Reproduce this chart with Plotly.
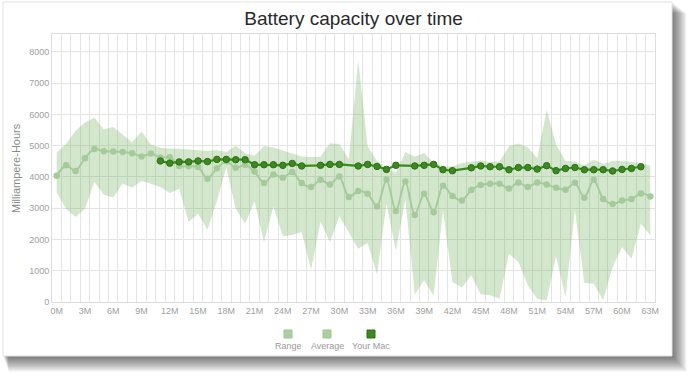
import plotly.graph_objects as go

# ---------------- data ----------------
months = list(range(64))
tick_vals = list(range(0, 64, 3))
tick_text = [f"{m}M" for m in tick_vals]

range_upper = [4770, 5060, 5480, 5740, 5890, 5520, 5600, 5340, 5110, 5450,
               5040, 4930, 4900, 4900, 4870, 4850, 4830, 4860, 4800, 5000,
               4760, 4680, 4990, 4940, 4847, 4756, 4655, 4633, 4644, 5080,
               5050, 4565, 7722, 4980, 4500, 4287, 4127, 4792, 4644, 4766,
               4447, 4340, 4330, 4441, 4473, 4527, 4473, 4495, 4980, 5070,
               4950, 4600, 6147, 5030, 4505, 4495, 4367, 4549, 4420, 4505,
               4505, 4473, 4441, 4367]

range_lower = [3500, 2984, 2716, 2984, 3834, 3430, 3345, 3790, 3660, 3870,
               3783, 3674, 3483, 3623, 2570, 2824, 2313, 3220, 4300, 2980,
               2504, 3220, 1917, 3050, 2100, 2140, 2237, 1035, 2570, 1917,
               2750, 2210, 1706, 1890, 870, 3140, 1650, 3290, 240, 700,
               200, 2920, 640, 460, 853, 246, 214, 107, 1546, 1278,
               534, 107, 54, 1460, 160, 2930, 607, 587, 54, 1118,
               1757, 1387, 2504, 2131]

average = [4040, 4370, 4190, 4600, 4890, 4820, 4815, 4795, 4760, 4650,
           4750, 4620, 4630, 4350, 4340, 4320, 3940, 4280, 4500, 4290,
           4380, 4170, 3803, 4080, 3974, 4154, 3803, 3675, 3910, 3760,
           4016, 3355, 3546, 3463, 3057, 3920, 2907, 3856, 2780, 3463,
           2866, 3718, 3390, 3249, 3579, 3739, 3782, 3782, 3633, 3824,
           3675, 3824, 3760, 3654, 3590, 3814, 3334, 3910, 3291, 3131,
           3249, 3291, 3473, 3377]

your_mac = [None] * 11 + [
    4510, 4440, 4480, 4480, 4510, 4490, 4560, 4560, 4550, 4550,
    4390, 4390, 4390, 4370, 4430, 4350, None, 4370, 4400, 4400,
    None, 4350, 4400, 4335, 4240, 4370, None, 4350, 4370, 4400,
    4230, 4200, None, 4290, 4350, 4325, 4325, 4230, 4300, 4300,
    4250, 4360, 4200, 4270, 4300, 4230, 4230, 4230, 4190, 4240,
    4270, 4325] + [None]

legend_names = ["Range", "Average", "Your Mac"]

# ---------------- styling ----------------
FONT = "Liberation Sans, Arial, Helvetica, sans-serif"
FILL = "rgba(110,175,90,0.30)"
AVG = "#a6cb9b"
MAC = "#3a8a1e"
MAC_EDGE = "#2e6f18"

W, H = 689, 375
L, R, T, B = 52, 34, 34, 73
PW, PH = W - L - R, H - T - B


def px(x):
    return (x - L) / PW


def py(y):
    return (H - B - y) / PH


fig = go.Figure()

fig.add_trace(go.Scatter(x=months, y=range_lower, mode="lines",
                         line=dict(width=0, color=FILL), hoverinfo="skip",
                         showlegend=False))
fig.add_trace(go.Scatter(x=months, y=range_upper, mode="lines", fill="tonexty",
                         fillcolor=FILL, line=dict(width=0, color=FILL),
                         name="Range", showlegend=False))
fig.add_trace(go.Scatter(x=months, y=average, mode="lines+markers",
                         line=dict(color=AVG, width=2, shape="spline", smoothing=0.8),
                         marker=dict(color=AVG, size=6.5),
                         name="Average", showlegend=False))
fig.add_trace(go.Scatter(x=months, y=your_mac, mode="lines+markers",
                         connectgaps=True,
                         line=dict(color=MAC, width=2.2),
                         marker=dict(color=MAC, size=6.5, line=dict(color=MAC_EDGE, width=1)),
                         name="Your Mac", showlegend=False))

shapes = []
# card shadow
for i in range(1, 12):
    shapes.append(dict(type="rect", xref="paper", yref="paper", layer="below",
                       x0=px(3 + i * 0.5), x1=px(672 + i * 1.3),
                       y0=py(356 + i * 1.4), y1=py(2 + i),
                       fillcolor="rgba(0,0,0,0.06)", line=dict(width=0)))
# card
shapes.append(dict(type="rect", xref="paper", yref="paper", layer="below",
                   x0=px(3), x1=px(672), y0=py(356), y1=py(2),
                   fillcolor="white", line=dict(color="#e2e2e2", width=1)))

annotations = []
legend_x = [288, 327, 371]
legend_colors = [("#a9d09e", "#9cc590"), ("#a9d09e", "#9cc590"), (MAC, MAC_EDGE)]
for name, lx, (fc, lc) in zip(legend_names, legend_x, legend_colors):
    shapes.append(dict(type="rect", xref="paper", yref="paper",
                       x0=px(lx - 4), x1=px(lx + 4), y0=py(338), y1=py(330),
                       fillcolor=fc, line=dict(color=lc, width=1)))
    annotations.append(dict(text=name, xref="paper", yref="paper",
                            x=px(lx), y=py(346), xanchor="center", yanchor="middle",
                            showarrow=False, font=dict(family=FONT, size=9, color="#9a9a9a")))

# y axis title
annotations.append(dict(text="Milliampere-Hours", xref="paper", yref="paper",
                        x=px(16), y=py(168), textangle=-90, xanchor="center",
                        yanchor="middle", showarrow=False,
                        font=dict(family=FONT, size=11, color="#8a8a8a")))

fig.update_layout(
    width=W, height=H,
    margin=dict(l=L, r=R, t=T, b=B),
    paper_bgcolor="white", plot_bgcolor="white",
    title=dict(text="Battery capacity over time", x=0.5, xref="paper",
               y=1 - 18 / H, yanchor="middle",
               font=dict(family=FONT, size=19, color="#2a2a2a")),
    shapes=shapes, annotations=annotations,
    xaxis=dict(range=[-0.5, 63.5], tickmode="array", tickvals=tick_vals,
               ticktext=tick_text, showgrid=False, zeroline=False,
               ticks="", ticklen=0,
               tickfont=dict(family=FONT, size=9, color="#a0a0a0"),
               showline=True, linecolor="#dcdcdc", mirror=True,
               minor=dict(tickmode="linear", tick0=-0.5, dtick=1, showgrid=True,
                          gridcolor="#e4e4e4", gridwidth=1, ticks="")),
    yaxis=dict(range=[0, 8570], tickmode="linear", tick0=0, dtick=1000,
               showgrid=True, gridcolor="#e4e4e4", zeroline=False,
               showline=True, linecolor="#dcdcdc", mirror=True,
               tickfont=dict(family=FONT, size=9, color="#a0a0a0"), ticks=""),
    showlegend=False,
)

fig.write_html("out.html",
               config={"displayModeBar": False},
               post_script="document.body.style.margin='0';document.body.style.overflow='hidden';")
